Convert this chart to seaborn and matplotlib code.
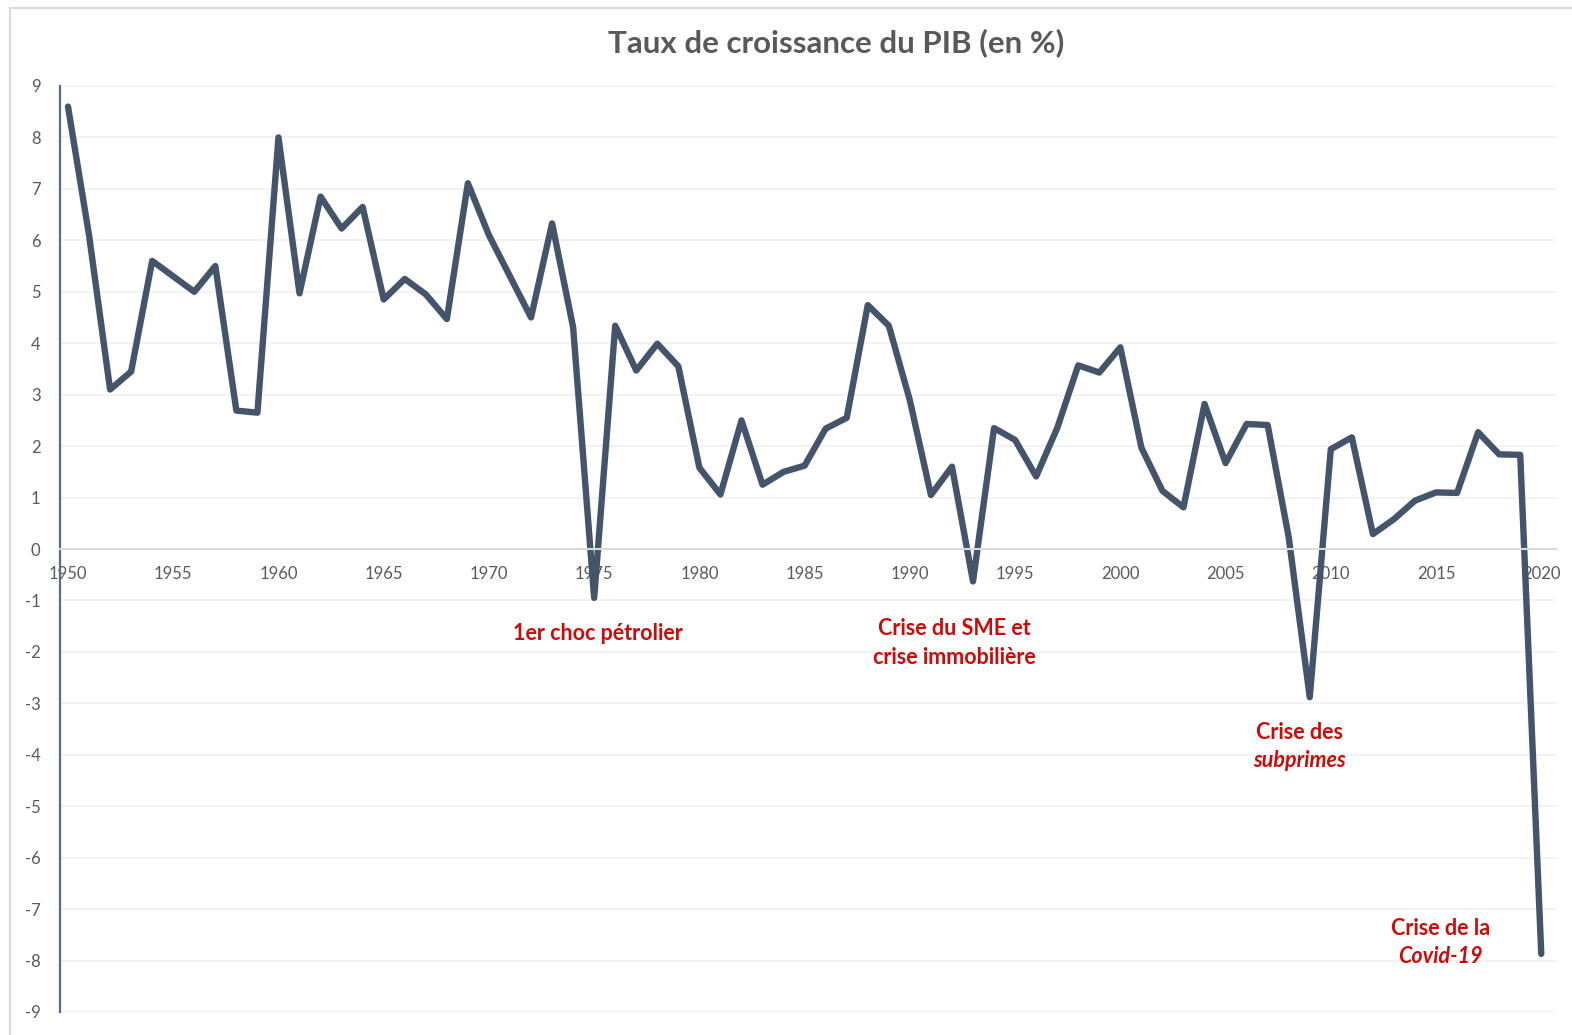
import numpy as np
import pandas as pd
import matplotlib
matplotlib.use('Agg')
import matplotlib.pyplot as plt
import seaborn as sns
from matplotlib.ticker import MultipleLocator
from matplotlib.lines import Line2D

# Taux de croissance du PIB, France, 1950-2020
years = list(range(1950, 2021))
growth = [8.6, 6.1, 3.1, 3.45, 5.6, 5.3, 5.0, 5.5, 2.69, 2.65,
          8.0, 4.97, 6.85, 6.23, 6.65, 4.85, 5.25, 4.95, 4.47, 7.11,
          6.1, 5.3, 4.5, 6.33, 4.31, -0.95, 4.34, 3.47, 3.99, 3.55,
          1.58, 1.06, 2.5, 1.25, 1.5, 1.62, 2.34, 2.55, 4.74, 4.34,
          2.89, 1.05, 1.6, -0.63, 2.35, 2.12, 1.41, 2.35, 3.57, 3.43,
          3.92, 1.97, 1.13, 0.81, 2.82, 1.67, 2.43, 2.41, 0.23, -2.88,
          1.94, 2.17, 0.29, 0.58, 0.94, 1.1, 1.09, 2.27, 1.84, 1.83,
          -7.87]

# annotations : (x, y, 1re ligne, 2e ligne, style de la 2e ligne)
crises = [
    (1975.2, -1.65, '1er choc pétrolier', None, None),
    (1992.1, -1.82, 'Crise du SME et', 'crise immobilière', 'normal'),
    (2008.5, -3.84, 'Crise des', 'subprimes', 'italic'),
    (2015.2, -7.65, 'Crise de la', 'Covid-19', 'italic'),
]

df = pd.DataFrame({'Annee': years, 'PIB': growth})

sns.set_style('white')
plt.rcParams['font.family'] = ['Lato', 'DejaVu Sans']

line_col = '#44546A'
grey_txt = '#595959'
red_txt = '#CC0A0A'

fig = plt.figure(figsize=(15.72, 10.35), dpi=100)
ax = fig.add_axes([60 / 1572, 1 - 1012 / 1035, (1556 - 60) / 1572, (1012 - 86) / 1035])

sns.lineplot(data=df, x='Annee', y='PIB', ax=ax, color=line_col, linewidth=4.6,
             solid_joinstyle='round', solid_capstyle='round')

ax.set_xlim(1949.62, 2020.7)
ax.set_ylim(-9, 9)
ax.set_xlabel('')
ax.set_ylabel('')

# grille horizontale
ax.yaxis.set_major_locator(MultipleLocator(1))
ax.grid(axis='y', color='#F0F0F0', linewidth=1.2)
ax.grid(axis='x', visible=False)
ax.set_axisbelow(True)

# axe des x placé à y = 0
for s in ['top', 'right']:
    ax.spines[s].set_visible(False)
ax.spines['bottom'].set_position(('data', 0))
ax.spines['bottom'].set_color('#D9D9D9')
ax.spines['bottom'].set_linewidth(1.5)
ax.spines['left'].set_color('#5B6B8C')
ax.spines['left'].set_linewidth(1.6)

ax.xaxis.set_major_locator(MultipleLocator(5))
ax.xaxis.set_minor_locator(MultipleLocator(1))
ax.tick_params(axis='x', which='both', direction='inout', length=5, width=1,
               color='#D9D9D9', labelsize=12, labelcolor=grey_txt, pad=10)
ax.tick_params(axis='y', length=0, labelsize=12, labelcolor=grey_txt, pad=14)
ax.set_yticks(range(-9, 10))
ax.set_yticklabels([str(v) for v in range(-9, 10)])

for x, y, l1, l2, style in crises:
    if l2 is None:
        ax.text(x, y, l1, ha='center', va='center', color=red_txt,
                fontsize=15.5, fontweight='bold')
    else:
        ax.text(x, y + 0.28, l1, ha='center', va='center', color=red_txt,
                fontsize=15.5, fontweight='bold')
        ax.text(x, y - 0.28, l2, ha='center', va='center', color=red_txt,
                fontsize=15.5, fontweight='bold', fontstyle=style)

fig.text(836 / 1572, 1 - 43 / 1035, 'Taux de croissance du PIB (en %)',
         ha='center', va='center', fontsize=22.5, fontweight='bold', color=grey_txt)

# cadre gris clair autour du graphique
fig.add_artist(Line2D([10 / 1572, 10 / 1572], [0, 1 - 8 / 1035],
                      transform=fig.transFigure, color='#D9D9D9', linewidth=1.5))
fig.add_artist(Line2D([10 / 1572, 1], [1 - 8 / 1035, 1 - 8 / 1035],
                      transform=fig.transFigure, color='#D9D9D9', linewidth=1.5))

fig.savefig('out.png', dpi=100, facecolor='white')
